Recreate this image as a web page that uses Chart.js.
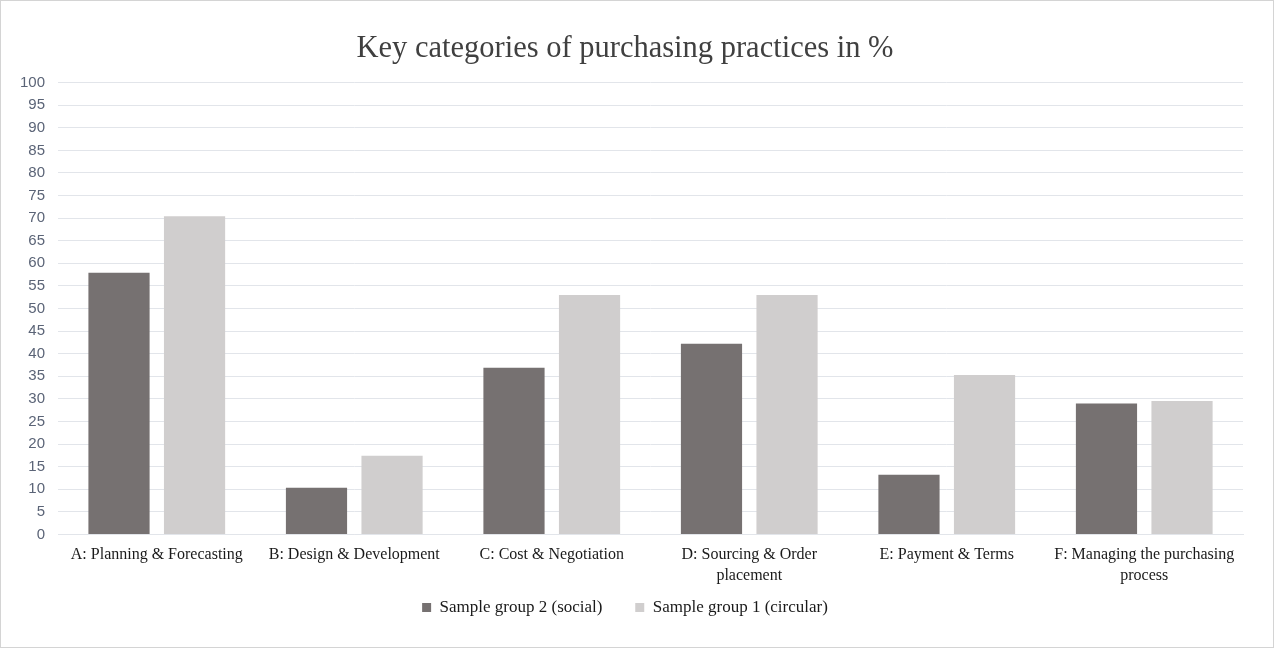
<!DOCTYPE html>
<html lang="en">
<head>
    <meta charset="UTF-8">
    <title>Key categories of purchasing practices</title>
    <script src="https://cdn.jsdelivr.net/npm/chart.js"></script>
    <style>
        html, body {
            margin: 0;
            padding: 0;
            background: #fff;
        }
        #frame {
            width: 1274px;
            height: 648px;
            box-sizing: border-box;
            border: 1px solid #d4d4d4;
        }
        #wrap {
            position: relative;
            width: 1272px;
            height: 646px;
        }
    </style>
</head>
<body>
    <div id="frame">
        <div id="wrap"><canvas id="practicesChart"></canvas></div>
    </div>

    <script>
        // Categories (multi-line where the label wraps)
        const categories = [
            'A: Planning & Forecasting',
            'B: Design & Development',
            'C: Cost & Negotiation',
            ['D: Sourcing & Order', 'placement'],
            'E: Payment & Terms',
            ['F: Managing the purchasing', 'process']
        ];

        // Share of answers in % per sample group
        const socialGroup = [57.9, 10.3, 36.9, 42.2, 13.2, 29.0];
        const circularGroup = [70.4, 17.4, 53.0, 53.0, 35.3, 29.5];

        const seriesNames = ['Sample group 2 (social)', 'Sample group 1 (circular)'];
        const seriesColors = ['#767171', '#d0cece'];

        const serif = "'Liberation Serif', 'Times New Roman', serif";
        const sans = "'Liberation Sans', Arial, sans-serif";

        const ctx = document.getElementById('practicesChart').getContext('2d');
        const practicesChart = new Chart(ctx, {
            type: 'bar',
            data: {
                labels: categories,
                datasets: [
                    {
                        label: seriesNames[0],
                        data: socialGroup,
                        backgroundColor: seriesColors[0]
                    },
                    {
                        label: seriesNames[1],
                        data: circularGroup,
                        backgroundColor: seriesColors[1]
                    }
                ]
            },
            options: {
                responsive: true,
                maintainAspectRatio: false,
                animation: false,
                datasets: {
                    bar: {
                        categoryPercentage: 0.765,
                        barPercentage: 0.81
                    }
                },
                layout: {
                    padding: { left: 6, right: 30, top: 30, bottom: 21 }
                },
                scales: {
                    x: {
                        grid: { display: false, drawTicks: false },
                        border: { display: true, color: '#e2e5ea' },
                        ticks: {
                            color: '#1a1a1a',
                            font: { family: serif, size: 16, lineHeight: 1.3 },
                            padding: 10,
                            maxRotation: 0,
                            autoSkip: false
                        }
                    },
                    y: {
                        min: 0,
                        max: 100,
                        grid: { color: '#e2e5ea', drawTicks: false },
                        border: { display: false },
                        ticks: {
                            stepSize: 5,
                            color: '#5b6477',
                            font: { family: sans, size: 15 },
                            padding: 13
                        }
                    }
                },
                plugins: {
                    title: {
                        display: true,
                        text: 'Key categories of purchasing practices in %',
                        color: '#404040',
                        font: { family: serif, size: 30.5, weight: 'normal' },
                        padding: { top: 0, bottom: 15 }
                    },
                    legend: {
                        position: 'bottom',
                        labels: {
                            boxWidth: 9,
                            boxHeight: 9,
                            padding: 3,
                            color: '#1a1a1a',
                            font: { family: serif, size: 17 },
                            // small row padding keeps the legend close to the labels,
                            // so the gap between the two entries comes from trailing spaces
                            generateLabels: (chart) => {
                                const items = Chart.defaults.plugins.legend.labels.generateLabels(chart);
                                items[0].text += '       ';
                                return items;
                            }
                        }
                    },
                    tooltip: { enabled: false }
                }
            }
        });
    </script>
</body>
</html>
